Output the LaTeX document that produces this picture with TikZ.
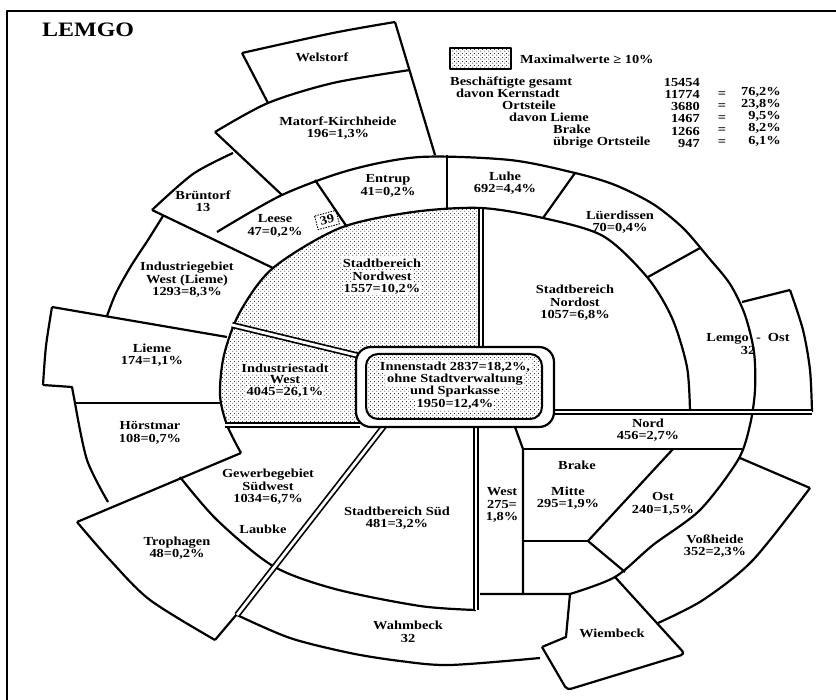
\documentclass[tikz,border=0pt]{standalone}
\usepackage{fontspec}
\usetikzlibrary{patterns.meta}
\newfontfamily\labfont{Liberation Serif}[FakeStretch=1.17]
\newcommand\lab{\labfont\bfseries\fontsize{12.3}{12.5}\selectfont}
\tikzdeclarepattern{
  name=lemdots,
  type=uncolored,
  bounding box={(0pt,0pt) and (4pt,4pt)},
  tile size={(4pt,4pt)},
  code={\fill (1pt,1pt) circle (0.6pt); \fill (3pt,3pt) circle (0.6pt);}
}
\begin{document}
\begin{tikzpicture}[x=1pt,y=-1pt, line join=round,
  ln/.style={line width=2.2pt},
  dbl/.style={line width=1.7pt, double distance=2.8pt, double=white},
  lbl/.style={align=center, font=\lab, inner sep=0pt},
  dlbl/.style={lbl, fill=white, inner sep=1.2pt},
  ]
\useasboundingbox (0,0) rectangle (836,700);
\draw[ln] (7,700) -- (7,11) -- (836,11);

% dotted Kernstadt west
\fill[pattern=lemdots] plot[smooth,tension=0.6] coordinates {(227,425)(220,395)(224,355)(240,312)(273,268)(340,228)(413,212)(481,208)} -- (481,425) -- cycle;

% outer ring boxes
\draw[ln] plot[smooth] coordinates {(242,53)(333,33)(395,22)};
\draw[ln] (242,53) -- (268,103);
\draw[ln] (395,22) -- (435,155);
\draw[ln] plot[smooth] coordinates {(215,132)(268,103)(333,83)(410,70)};
\draw[ln] (215,132) -- (282,195);
\draw[ln] plot[smooth] coordinates {(233,153)(193,174)(152,210)};
\draw[ln] (152,210) -- (273,268);
\draw[ln] plot[smooth] coordinates {(163,216)(148,240)(131,266)(116,293)(107,316)};
\draw[ln] (52,307) -- (227,337);
\draw[ln] plot[smooth] coordinates {(52,307)(46,346)(43,385)};
\draw[ln] (43,385) -- (72,387) -- (75,403);
\draw[ln] (75,403) -- (220,403);
\draw[ln] plot[smooth] coordinates {(75,403)(87,460)(108,502)};
\draw[ln] (241,453) -- (77,522);
\draw[ln] plot[smooth] coordinates {(77,522)(110,560)(150,600)(215,640)};
\draw[ln] (215,640) -- (237,614);
\draw[ln] plot[smooth] coordinates {(180,477)(217,520)(273,566)(335,589)(420,606)(476,610)};
\draw[ln] plot[smooth] coordinates {(237,615)(290,638)(350,653)(400,661)(450,665)(540,658)};
% Wiembeck
\draw[ln] (480,594) -- (570,594) -- (566,637) -- (542,647);
\draw[ln, rounded corners=4pt] (542,647) -- (567,690) -- (685,654) -- (615,577);
% Voßheide
\draw[ln] (740,458) -- (810,488);
\draw[ln] plot[smooth] coordinates {(810,488)(753,560)(703,600)(658,623)};
% Lemgo-Ost box
\draw[ln] (742,302) -- (790,290);
\draw[ln] plot[smooth] coordinates {(790,290)(803,330)(810,370)(812,412)};
% ring-2 arc
\draw[ln] plot[smooth] coordinates {(217,232)(282,195)(350,170)(420,157)(510,160)(575,173)(615,185)(653,204)(683,228)(708,257)(730,284)(745,315)(754,352)(755,390)(750,425)(738,460)(700,510)(653,545)(615,577)(570,594)};
% ring-2 dividers
\draw[ln] (315,180) -- (347,227);
\draw[ln] (447,155) -- (447,210);
\draw[ln] (575,173) -- (543,218);
\draw[ln] (700,248) -- (648,277);
% Kernstadt arc
\draw[ln] plot[smooth] coordinates {(241,453)(227,425)(220,395)(224,355)(240,312)(273,268)(340,228)(413,212)(481,208)(543,218)(603,236)(647,277)(672,318)(687,367)(690,412)};
% Brake
\draw[ln] (515,427) -- (523,449) -- (523,594);
\draw[ln] (523,449) -- (742,449);
\draw[ln] (673,449) -- (588,541) -- (625,572);
\draw[ln] (523,541) -- (588,541);
% double lines
\draw[dbl] (481,209) -- (481,350);
\draw[dbl] (550,412) -- (812,412);
\draw[dbl] (225,425) -- (360,425);
\draw[dbl] (232,325) -- (360,356);
\draw[dbl] (385,425) -- (237,615);
\draw[dbl] (476,425) -- (476,610);
% Innenstadt box
\draw[ln, fill=white, rounded corners=15pt] (356,347) rectangle (554,427);
\draw[line width=2pt, pattern=lemdots, rounded corners=12pt] (366,354) rectangle (542,419);

% legend
\draw[ln, pattern=lemdots] (450,48) rectangle (511,69);
\node[lbl, anchor=west] (leg) at (520,59) {Maximalwerte ≥ 10\%};
\node[anchor=west, inner sep=0pt, font={\labfont\bfseries\fontsize{20.5}{20.5}\selectfont}] (title) at (42,30) {LEMGO};

% stats
\node[lbl, anchor=base west] (s1) at (450,86) {Beschäftigte gesamt};
\node[lbl, anchor=base west] (s2) at (456,98) {davon Kernstadt};
\node[lbl, anchor=base west] (s3) at (502,110) {Ortsteile};
\node[lbl, anchor=base west] (s4) at (509,122) {davon Lieme};
\node[lbl, anchor=base west] (s5) at (553,134) {Brake};
\node[lbl, anchor=base west] (s6) at (553,146) {übrige Ortsteile};
\node[lbl, anchor=base east] (n1) at (700,87) {15454};
\node[lbl, anchor=base east] (n2) at (700,99) {11774};
\node[lbl, anchor=base east] (n3) at (700,111) {3680};
\node[lbl, anchor=base east] (n4) at (700,123) {1467};
\node[lbl, anchor=base east] (n5) at (700,136) {1266};
\node[lbl, anchor=base east] (n6) at (700,148) {947};
\node[lbl] (e2) at (722,95) {=};
\node[lbl] (e3) at (722,107) {=};
\node[lbl] (e4) at (722,119) {=};
\node[lbl] (e5) at (722,131) {=};
\node[lbl] (e6) at (722,143) {=};
\node[lbl, anchor=base east] (p2) at (781,96) {76,2\%};
\node[lbl, anchor=base east] (p3) at (781,108) {23,8\%};
\node[lbl, anchor=base east] (p4) at (781,120) {9,5\%};
\node[lbl, anchor=base east] (p5) at (781,132) {8,2\%};
\node[lbl, anchor=base east] (p6) at (781,145) {6,1\%};

% region labels
\node[lbl] (welstorf) at (322,57) {Welstorf};
\node[lbl] (matorf) at (338,128) {Matorf-Kirchheide\\196=1,3\%};
\node[lbl] (bruentorf) at (203,201) {Brüntorf\\13};
\node[lbl] (entrup) at (388,186) {Entrup\\41=0,2\%};
\node[lbl] (leese) at (275,226) {Leese\\47=0,2\%};
\draw[dash pattern=on 1.5pt off 1.2pt, line width=0.9pt, rotate around={15:(327,220)}] (316,213) rectangle (338,227);
\node[lbl, rotate=15] (n39) at (327,220) {39};
\node[lbl] (luhe) at (505,183) {Luhe\\692=4,4\%};
\node[lbl] (luerdissen) at (620,222) {Lüerdissen\\70=0,4\%};
\node[lbl] (indgeb) at (187,280) {Industriegebiet\\West (Lieme)\\1293=8,3\%};
\node[dlbl] (nw1) at (382,263) {Stadtbereich};
\node[dlbl] (nw2) at (382,276) {Nordwest};
\node[dlbl] (nw3) at (382,289) {1557=10,2\%};
\node[lbl] (nordost) at (575,303) {Stadtbereich\\Nordost\\1057=6,8\%};
\node[lbl] (lemgoost) at (748,344) {Lemgo\ \ -\ \ Ost\\32};
\node[lbl] (lieme) at (152,355) {Lieme\\174=1,1\%};
\node[dlbl] (iw1) at (285,368) {Industriestadt};
\node[dlbl] (iw2) at (285,380) {West};
\node[dlbl] (iw3) at (285,392) {4045=26,1\%};
\node[dlbl] (in1) at (455,367) {Innenstadt 2837=18,2\%,};
\node[dlbl] (in2) at (455,380) {ohne Stadtverwaltung};
\node[dlbl] (in3) at (455,392) {und Sparkasse};
\node[dlbl] (in4) at (455,404) {1950=12,4\%};
\node[lbl] (hoerstmar) at (150,433) {Hörstmar\\108=0,7\%};
\node[lbl] (nord) at (648,430) {Nord\\456=2,7\%};
\node[lbl] (brake) at (577,465) {Brake};
\node[lbl] (mitte) at (568,498) {Mitte\\295=1,9\%};
\node[lbl] (ost) at (663,504) {Ost\\240=1,5\%};
\node[lbl] (west) at (502,505) {West\\275=\\1,8\%};
\node[lbl] (gewerbe) at (268,487) {Gewerbegebiet\\Südwest\\1034=6,7\%};
\node[lbl] (laubke) at (263,529) {Laubke};
\node[lbl] (sued) at (397,518) {Stadtbereich Süd\\481=3,2\%};
\node[lbl] (voss) at (715,546) {Voßheide\\352=2,3\%};
\node[lbl] (trophagen) at (177,548) {Trophagen\\48=0,2\%};
\node[lbl] (wiembeck) at (612,633) {Wiembeck};
\node[lbl] (wahmbeck) at (408,632) {Wahmbeck\\32};
\end{tikzpicture}
\end{document}
